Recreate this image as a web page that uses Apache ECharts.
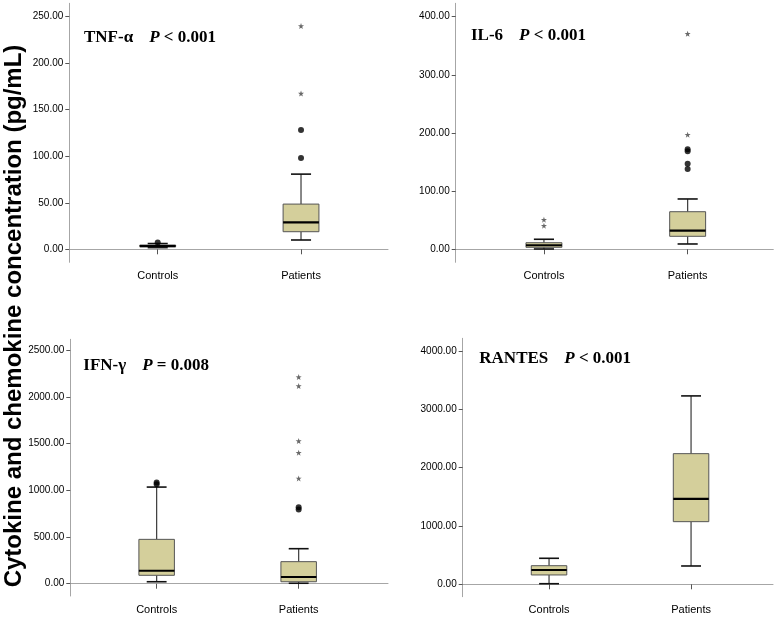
<!DOCTYPE html>
<html>
<head>
<meta charset="utf-8">
<script src="https://cdn.jsdelivr.net/npm/echarts@6/dist/echarts.min.js"></script>
<style>html,body{margin:0;padding:0;background:#fff}#c{width:781px;height:617px}</style>
</head>
<body>
<div id="c"></div>
<script>
// ---- data ----
const categories = ['Controls', 'Patients'];
// box stats per group: [min, Q1, median, Q3, max]
const tnfBoxes = [[1.8, 2.8, 3.5, 4.6, 6.2], [10, 18.9, 29, 48.6, 80.8]];
const tnfDots = [[0, 7.3], [1, 98], [1, 128.3]];
const tnfStars = [[1, 167.4], [1, 240]];
const il6Boxes = [[0.5, 3.4, 6.9, 11.3, 17.2], [9.1, 22.3, 32, 64.6, 86.5]];
const il6Dots = [[1, 138], [1, 147.2], [1, 168.5], [1, 172]];
const il6Stars = [[0, 40.6], [0, 50.9], [1, 197], [1, 370.5]];
const ifnBoxes = [[21, 90, 139, 475, 1035], [5, 21, 72, 236, 375]];
const ifnDots = [[0, 1065], [0, 1085], [1, 795], [1, 820]];
const ifnStars = [[1, 1128], [1, 1403], [1, 1528], [1, 2117], [1, 2213]];
const rantesBoxes = [[10, 160, 245, 319, 446], [314, 1074, 1463, 2240, 3230]];
const rantesDots = [];
const rantesStars = [];
const tnfTicks = [0, 50, 100, 150, 200, 250];
const il6Ticks = [0, 100, 200, 300, 400];
const ifnTicks = [0, 500, 1000, 1500, 2000, 2500];
const rantesTicks = [0, 1000, 2000, 3000, 4000];
const panelNames = ['TNF-α', 'IL-6', 'IFN-γ', 'RANTES'];
const panelP = [' < 0.001', ' < 0.001', ' = 0.008', ' < 0.001'];
const yTitle = 'Cytokine and chemokine concentration (pg/mL)';

// ---- layout ----
const panels = [
  {boxes: tnfBoxes, dots: tnfDots, stars: tnfStars, ticks: tnfTicks,
   grid: {left: 69.3, top: 3.3, width: 318.7, height: 259}, y: [-13.97, 264.4], x: [0.383, 2.607],
   title: {left: 84, top: 29}},
  {boxes: il6Boxes, dots: il6Dots, stars: il6Stars, ticks: il6Ticks,
   grid: {left: 455.7, top: 3.3, width: 317.6, height: 259}, y: [-22.4, 423], x: [0.386, 2.596],
   title: {left: 471, top: 27}},
  {boxes: ifnBoxes, dots: ifnDots, stars: ifnStars, ticks: ifnTicks,
   grid: {left: 70.3, top: 339.3, width: 317.7, height: 256.7}, y: [-131.7, 2617.8], x: [0.392, 2.629],
   title: {left: 83.3, top: 357}},
  {boxes: rantesBoxes, dots: rantesDots, stars: rantesStars, ticks: rantesTicks,
   grid: {left: 462.7, top: 338.3, width: 310.3, height: 258.4}, y: [-212.6, 4217.7], x: [0.392, 2.577],
   title: {left: 479.3, top: 350.5}}
];

const starPath = 'path://M0,-10L2.35,-3.24L9.51,-3.09L3.8,1.24L5.88,8.09L0,4L-5.88,8.09L-3.8,1.24L-9.51,-3.09L-2.35,-3.24Z';

function renderBox(params, api) {
  const x = api.value(0);
  const lo = api.coord([x, api.value(1)]);
  const q1 = api.coord([x, api.value(2)]);
  const md = api.coord([x, api.value(3)]);
  const q3 = api.coord([x, api.value(4)]);
  const hi = api.coord([x, api.value(5)]);
  const bw = api.size([0.25, 0])[0];
  const cw = bw * 0.56;
  const cx = lo[0];
  const wl = {stroke: '#3a3a3a', lineWidth: 1.2};
  const cap = {stroke: '#111', lineWidth: 1.6};
  return {type: 'group', children: [
    {type: 'line', shape: {x1: cx, y1: hi[1], x2: cx, y2: q3[1]}, style: wl},
    {type: 'line', shape: {x1: cx, y1: q1[1], x2: cx, y2: lo[1]}, style: wl},
    {type: 'line', shape: {x1: cx - cw / 2, y1: hi[1], x2: cx + cw / 2, y2: hi[1]}, style: cap},
    {type: 'line', shape: {x1: cx - cw / 2, y1: lo[1], x2: cx + cw / 2, y2: lo[1]}, style: cap},
    {type: 'rect', shape: {x: cx - bw / 2, y: q3[1], width: bw, height: Math.max(q1[1] - q3[1], 1)},
     style: {fill: '#d4cf9b', stroke: '#555', lineWidth: 1}},
    {type: 'line', shape: {x1: cx - bw / 2, y1: md[1], x2: cx + bw / 2, y2: md[1]}, style: {stroke: '#000', lineWidth: 2.2}}
  ]};
}

const option = {
  animation: false,
  backgroundColor: '#fff',
  title: [], grid: [], xAxis: [], yAxis: [], series: [],
  graphic: [{
    type: 'text', x: 14, y: 316, rotation: Math.PI / 2,
    style: {text: yTitle, font: 'bold 24px "Liberation Sans", Arial, sans-serif', fill: '#000',
            textAlign: 'center', textVerticalAlign: 'middle'}
  }]
};

panels.forEach((p, i) => {
  option.title.push({
    left: p.title.left, top: p.title.top, padding: 0,
    text: '{n|' + panelNames[i] + '}{p|P}{n|' + panelP[i] + '}',
    textStyle: {
      rich: {
        n: {fontFamily: '"Liberation Serif", "Times New Roman", serif', fontWeight: 'bold', fontSize: 17, color: '#000'},
        p: {fontFamily: '"Liberation Serif", "Times New Roman", serif', fontWeight: 'bold', fontStyle: 'italic', fontSize: 17, color: '#000', padding: [0, 0, 0, 16]}
      }
    }
  });
  option.grid.push(Object.assign({containLabel: false}, p.grid));
  option.xAxis.push({
    type: 'value', gridIndex: i, min: p.x[0], max: p.x[1],
    axisLine: {show: true, lineStyle: {color: '#a6a6a6', width: 1}},
    axisTick: {show: true, customValues: [1, 2], length: 5, lineStyle: {color: '#555'}},
    axisLabel: {customValues: [1, 2], margin: 8, fontSize: 11, color: '#000',
                fontFamily: '"Liberation Sans", Arial, sans-serif',
                formatter: v => categories[Math.round(v) - 1] || ''},
    splitLine: {show: false}
  });
  option.yAxis.push({
    type: 'value', gridIndex: i, min: p.y[0], max: p.y[1],
    axisLine: {show: true, lineStyle: {color: '#a6a6a6', width: 1}},
    axisTick: {show: true, customValues: p.ticks, length: 4, lineStyle: {color: '#555'}},
    axisLabel: {customValues: p.ticks, margin: 6, fontSize: 10, color: '#000',
                fontFamily: '"Liberation Sans", Arial, sans-serif',
                formatter: v => v.toFixed(2)},
    splitLine: {show: false}
  });
  option.series.push({
    type: 'custom', xAxisIndex: i, yAxisIndex: i, renderItem: renderBox,
    encode: {x: 0, y: [1, 2, 3, 4, 5]},
    data: p.boxes.map((b, g) => [g + 1].concat(b))
  });
  option.series.push({
    type: 'scatter', xAxisIndex: i, yAxisIndex: i, symbol: 'circle', symbolSize: 6,
    itemStyle: {color: '#000'},
    data: p.dots.map(d => [d[0] + 1, d[1]])
  });
  option.series.push({
    type: 'scatter', xAxisIndex: i, yAxisIndex: i, symbol: starPath, symbolSize: 6,
    itemStyle: {color: '#444'},
    data: p.stars.map(d => [d[0] + 1, d[1]])
  });
});

const chart = echarts.init(document.getElementById('c'), null, {renderer: 'canvas'});
chart.setOption(option);
</script>
</body>
</html>
